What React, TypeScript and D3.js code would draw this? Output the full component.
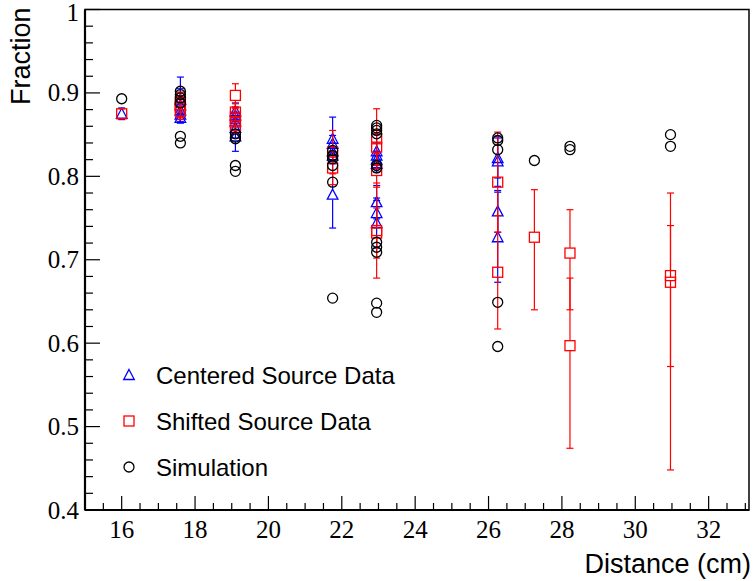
import React from "react";
import * as d3 from "d3";

// ---------- data ----------
const centeredDist = [16.0, 17.6, 17.6, 17.6, 17.6, 17.6, 19.1, 19.1, 19.1, 19.1, 19.1, 21.75, 21.75, 21.75, 21.75, 21.75, 22.95, 22.95, 22.95, 22.95, 22.95, 22.95, 22.95, 26.25, 26.25, 26.25, 26.25];
const centeredFrac = [0.875, 0.892, 0.885, 0.879, 0.874, 0.870, 0.878, 0.873, 0.866, 0.858, 0.848, 0.845, 0.839, 0.830, 0.825, 0.778, 0.830, 0.825, 0.820, 0.815, 0.769, 0.756, 0.744, 0.822, 0.818, 0.758, 0.727];
const centeredErrHi = [0.007, 0.027, 0.02, 0.015, 0.01, 0.005, 0.01, 0.01, 0.01, 0.012, 0.018, 0.026, 0.01, 0.01, 0.01, 0.04, 0.02, 0.015, 0.01, 0.01, 0.02, 0.015, 0.03, 0.024, 0.03, 0.025, 0.054];
const centeredErrLo = [0.007, 0.027, 0.02, 0.015, 0.01, 0.005, 0.01, 0.01, 0.01, 0.012, 0.018, 0.026, 0.01, 0.01, 0.01, 0.04, 0.02, 0.015, 0.01, 0.01, 0.02, 0.015, 0.03, 0.024, 0.03, 0.025, 0.054];

const shiftedDist = [16.0, 17.6, 17.6, 17.6, 17.6, 19.1, 19.1, 19.1, 19.1, 19.1, 21.75, 21.75, 22.95, 22.95, 22.95, 22.95, 22.95, 26.25, 26.25, 27.25, 28.22, 28.22, 30.96, 30.96];
const shiftedFrac = [0.875, 0.890, 0.886, 0.883, 0.878, 0.897, 0.877, 0.871, 0.865, 0.861, 0.829, 0.810, 0.845, 0.835, 0.807, 0.735, 0.732, 0.793, 0.685, 0.727, 0.708, 0.597, 0.681, 0.673];
const shiftedErrHi = [0.006, 0.01, 0.015, 0.012, 0.01, 0.014, 0.01, 0.01, 0.01, 0.01, 0.026, 0.02, 0.036, 0.02, 0.02, 0.057, 0.03, 0.06, 0.068, 0.057, 0.052, 0.081, 0.099, 0.068];
const shiftedErrLo = [0.006, 0.01, 0.015, 0.012, 0.01, 0.014, 0.01, 0.01, 0.01, 0.01, 0.026, 0.02, 0.036, 0.02, 0.02, 0.057, 0.03, 0.06, 0.068, 0.087, 0.068, 0.123, 0.233, 0.101];

const simDist = [16.0, 17.6, 17.6, 17.6, 17.6, 17.6, 17.6, 19.1, 19.1, 19.1, 19.1, 19.1, 21.75, 21.75, 21.75, 21.75, 21.75, 21.75, 22.95, 22.95, 22.95, 22.95, 22.95, 22.95, 22.95, 22.95, 22.95, 22.95, 22.95, 26.25, 26.25, 26.25, 26.25, 26.25, 27.25, 28.22, 28.22, 30.96, 30.96];
const simFrac = [0.893, 0.902, 0.898, 0.894, 0.888, 0.848, 0.840, 0.851, 0.847, 0.845, 0.813, 0.806, 0.831, 0.825, 0.821, 0.813, 0.793, 0.654, 0.861, 0.858, 0.855, 0.851, 0.813, 0.810, 0.721, 0.715, 0.709, 0.648, 0.637, 0.846, 0.843, 0.832, 0.649, 0.596, 0.819, 0.836, 0.832, 0.850, 0.836];

const xMajorTicks = [16, 18, 20, 22, 24, 26, 28, 30, 32];
const yMajorTicks = [0.4, 0.5, 0.6, 0.7, 0.8, 0.9, 1.0];
const yTickLabels = ["0.4", "0.5", "0.6", "0.7", "0.8", "0.9", "1"];
const legendLabels = ["Centered Source Data", "Shifted Source Data", "Simulation"];

// ---------- layout ----------
const W = 755, H = 581;
const L = 85, R = 749, T = 9.5, B = 510;
const BLUE = "#0000ff", RED = "#ff0000", BLACK = "#000000";
const MS = 5.0; // marker half-size

const x = d3.scaleLinear().domain([15, 33.1]).range([L, R]);
const y = d3.scaleLinear().domain([0.4, 1.0]).range([B, T]);

const xMinor = d3.range(15.5, 33.01, 0.5).filter((v) => Math.abs(v / 2 - Math.round(v / 2)) > 1e-6);
const yMinor = d3.range(0.42, 0.99, 0.02).filter((v) => Math.abs(v * 10 - Math.round(v * 10)) > 1e-6);

function Marker({ kind, cx, cy, color }: { kind: string; cx: number; cy: number; color: string }) {
  if (kind === "circle") return <circle cx={cx} cy={cy} r={MS} fill="none" stroke={color} strokeWidth={1.3} />;
  if (kind === "square")
    return <rect x={cx - MS} y={cy - MS} width={2 * MS} height={2 * MS} fill="none" stroke={color} strokeWidth={1.3} />;
  const tri = d3.line()([
    [cx, cy - MS - 0.5],
    [cx + MS + 0.3, cy + MS - 0.5],
    [cx - MS - 0.3, cy + MS - 0.5],
  ]) + "Z";
  return <path d={tri} fill="none" stroke={color} strokeWidth={1.3} />;
}

function ErrorBar({ cx, v, hi, lo, color }: { cx: number; v: number; hi: number; lo: number; color: string }) {
  const cy = y(v);
  const yt = y(v + hi);
  const yb = y(v - lo);
  const cap = 3.5;
  const els: any[] = [];
  if (cy - MS > yt) {
    els.push(<line key="u" x1={cx} x2={cx} y1={cy - MS} y2={yt} />);
  }
  if (yb > cy + MS) {
    els.push(<line key="d" x1={cx} x2={cx} y1={cy + MS} y2={yb} />);
  }
  els.push(<line key="cu" x1={cx - cap} x2={cx + cap} y1={yt} y2={yt} />);
  els.push(<line key="cd" x1={cx - cap} x2={cx + cap} y1={yb} y2={yb} />);
  return <g stroke={color} strokeWidth={1.2}>{els}</g>;
}

export default function App() {
  return (
    <svg width={W} height={H} style={{ position: "absolute", left: 0, top: 0, background: "#fff" }}>
      <rect x={0} y={0} width={W} height={H} fill="#fff" />
      {/* frame */}
      <rect x={L} y={T} width={R - L} height={B - T} fill="none" stroke="#000" strokeWidth={1.5} />
      <line x1={L} x2={R} y1={B} y2={B} stroke="#000" strokeWidth={2.2} />
      <line x1={L} x2={L} y1={T} y2={B} stroke="#000" strokeWidth={2.2} />

      {/* ticks */}
      <g stroke="#000" strokeWidth={1.2}>
        {xMajorTicks.map((t) => (
          <line key={"xM" + t} x1={x(t)} x2={x(t)} y1={B} y2={B - 14} />
        ))}
        {xMinor.map((t) => (
          <line key={"xm" + t} x1={x(t)} x2={x(t)} y1={B} y2={B - 7} />
        ))}
        {yMajorTicks.map((t) => (
          <line key={"yM" + t} x1={L} x2={L + 15} y1={y(t)} y2={y(t)} />
        ))}
        {yMinor.map((t) => (
          <line key={"ym" + t} x1={L} x2={L + 8} y1={y(t)} y2={y(t)} />
        ))}
      </g>
      <g fontFamily="'Liberation Serif', 'Times New Roman', serif" fontSize={25} fill="#000">
        {xMajorTicks.map((t) => (
          <text key={"xl" + t} x={x(t)} y={B + 28} textAnchor="middle">
            {t}
          </text>
        ))}
        {yMajorTicks.map((t, i) => (
          <text key={"yl" + t} x={L - 6} y={Math.max(y(t) + 8.5, 21)} textAnchor="end">
            {yTickLabels[i]}
          </text>
        ))}
      </g>

      {/* axis titles */}
      <g fontFamily="'Liberation Sans', Arial, sans-serif" fontSize={27} fill="#000">
        <text x={R + 2} y={B + 63} textAnchor="end">
          Distance (cm)
        </text>
        <text transform={`translate(30, ${T - 2}) rotate(-90)`} textAnchor="end">
          Fraction
        </text>
      </g>

      {/* centered data */}
      <g>
        {centeredDist.map((d, i) => (
          <ErrorBar key={"ce" + i} cx={x(d)} v={centeredFrac[i]} hi={centeredErrHi[i]} lo={centeredErrLo[i]} color={BLUE} />
        ))}
        {centeredDist.map((d, i) => (
          <Marker key={"cm" + i} kind="triangle" cx={x(d)} cy={y(centeredFrac[i])} color={BLUE} />
        ))}
      </g>
      {/* shifted data */}
      <g>
        {shiftedDist.map((d, i) => (
          <ErrorBar key={"se" + i} cx={x(d)} v={shiftedFrac[i]} hi={shiftedErrHi[i]} lo={shiftedErrLo[i]} color={RED} />
        ))}
        {shiftedDist.map((d, i) => (
          <Marker key={"sm" + i} kind="square" cx={x(d)} cy={y(shiftedFrac[i])} color={RED} />
        ))}
      </g>
      {/* simulation */}
      <g>
        {simDist.map((d, i) => (
          <Marker key={"im" + i} kind="circle" cx={x(d)} cy={y(simFrac[i])} color={BLACK} />
        ))}
      </g>

      {/* legend */}
      <g fontFamily="'Liberation Sans', Arial, sans-serif" fontSize={24} fill="#000">
        {legendLabels.map((lab, i) => {
          const ly = 375 + i * 46;
          const kind = i === 0 ? "triangle" : i === 1 ? "square" : "circle";
          const col = i === 0 ? BLUE : i === 1 ? RED : BLACK;
          return (
            <g key={lab}>
              <Marker kind={kind} cx={129} cy={ly} color={col} />
              <text x={156} y={ly + 8.5}>
                {lab}
              </text>
            </g>
          );
        })}
      </g>
    </svg>
  );
}
